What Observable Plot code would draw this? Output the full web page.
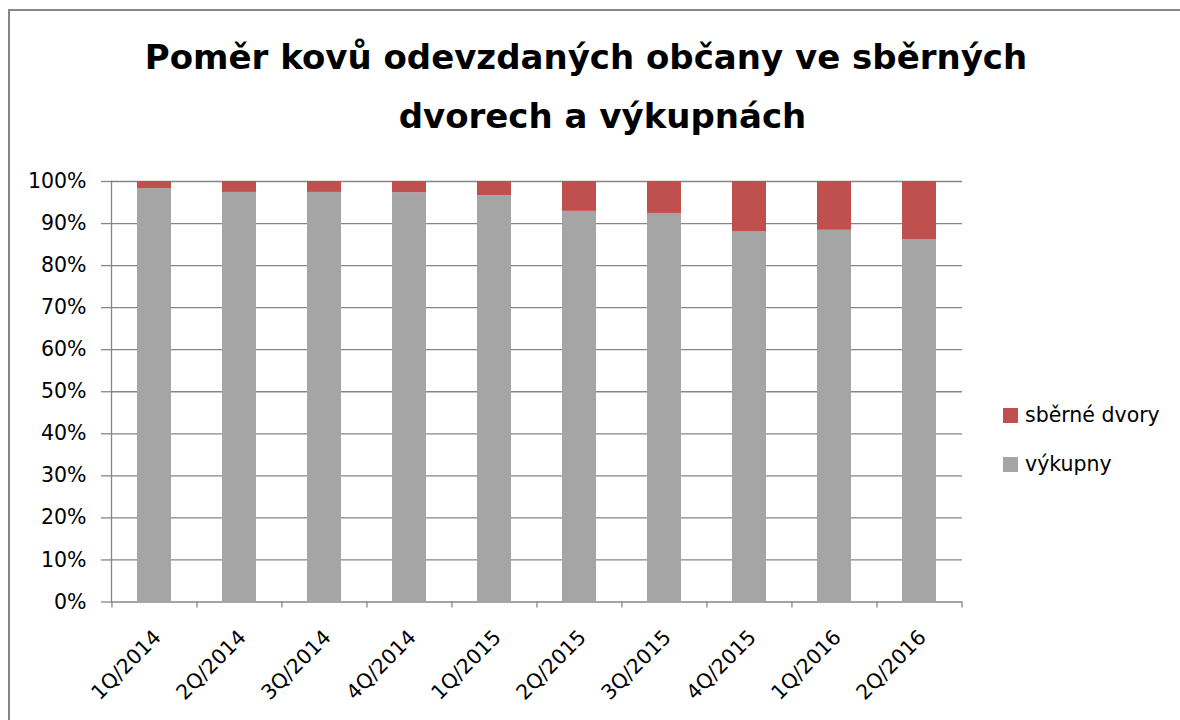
<!DOCTYPE html>
<html><head><meta charset="utf-8">
<script src="https://cdn.jsdelivr.net/npm/d3@7"></script>
<script src="https://cdn.jsdelivr.net/npm/@observablehq/plot@0.6"></script>
<style>
body{margin:0;background:#fff;}
#wrap{position:relative;width:1180px;height:720px;overflow:hidden;background:#fff;font-family:"DejaVu Sans",sans-serif;color:#000;}
#border{position:absolute;left:8px;top:9px;width:1300px;height:900px;border:2px solid #868686;box-sizing:border-box;}
.t{position:absolute;font-weight:bold;font-size:34px;line-height:34px;text-align:center;white-space:nowrap;}
.lg{position:absolute;font-size:20.5px;line-height:20.5px;white-space:nowrap;}
.sw{position:absolute;width:15px;height:15px;}
#chart{position:absolute;left:0;top:0;}
</style></head>
<body>
<div id="wrap">
  <div id="border"></div>
  <div id="chart"></div>
  <div class="t" id="t1" style="left:0;width:1172px;top:40px;"></div>
  <div class="t" id="t2" style="left:0;width:1205px;top:99px;"></div>
  <div id="legend"></div>
</div>
<script>
const titleLines = ["Poměr kovů odevzdaných občany ve sběrných", "dvorech a výkupnách"];
const categories = ["1Q/2014","2Q/2014","3Q/2014","4Q/2014","1Q/2015","2Q/2015","3Q/2015","4Q/2015","1Q/2016","2Q/2016"];
const seriesNames = ["výkupny", "sběrné dvory"];
const seriesColors = ["#A5A5A5", "#C0504D"];
const vykupny = [98.3, 97.4, 97.4, 97.3, 96.6, 92.9, 92.4, 88.0, 88.4, 86.2];
const sberneDvory = [1.7, 2.6, 2.6, 2.7, 3.4, 7.1, 7.6, 12.0, 11.6, 13.8];
const yTicks = [0,10,20,30,40,50,60,70,80,90,100];

document.getElementById("t1").textContent = titleLines[0];
document.getElementById("t2").textContent = titleLines[1];

const rows = [];
categories.forEach((c, i) => {
  rows.push({q: c, series: seriesNames[0], v: vykupny[i]});
  rows.push({q: c, series: seriesNames[1], v: sberneDvory[i]});
});

const W = 1180, H = 720, mL = 111, mR = 218, mT = 181, mB = 118.5;
const step = (W - mL - mR) / categories.length;
const grey = "#868686";

const chart = Plot.plot({
  width: W, height: H,
  marginLeft: mL, marginRight: mR, marginTop: mT, marginBottom: mB,
  style: {fontFamily: "DejaVu Sans, sans-serif", fontSize: "20.5px", color: "#000", background: "transparent"},
  x: {domain: categories, paddingInner: 0.6, paddingOuter: 0.3, label: null},
  y: {domain: [0, 100], label: null},
  color: {domain: seriesNames, range: seriesColors},
  marks: [
    Plot.gridY(yTicks, {stroke: grey, strokeOpacity: 1, strokeWidth: 1.3}),
    Plot.barY(rows, {x: "q", y: "v", fill: "series"}),
    Plot.frame({anchor: "left", stroke: grey, strokeWidth: 1.3}),
    Plot.ruleX(categories, {x: d => d, dx: -step / 2, y1: 0, y2: 0, insetBottom: -6, stroke: grey, strokeWidth: 1.3}),
    Plot.ruleX([categories[categories.length - 1]], {x: d => d, dx: step / 2, y1: 0, y2: 0, insetBottom: -6, stroke: grey, strokeWidth: 1.3}),
    Plot.axisY(yTicks, {tickSize: 10, tickPadding: 15, tickFormat: d => d + "%", stroke: grey, strokeWidth: 1.3, fill: "#000"}),
    Plot.axisX({tickRotate: -45, tickSize: 0, tickPadding: 32, dx: 3, fill: "#000"})
  ]
});
document.getElementById("chart").appendChild(chart);

const legend = document.getElementById("legend");
const legItems = [{name: seriesNames[1], color: seriesColors[1], top: 408}, {name: seriesNames[0], color: seriesColors[0], top: 457}];
legItems.forEach(it => {
  const sw = document.createElement("div");
  sw.className = "sw"; sw.style.left = "1003px"; sw.style.top = it.top + "px"; sw.style.background = it.color;
  legend.appendChild(sw);
  const tx = document.createElement("div");
  tx.className = "lg"; tx.style.left = "1025px"; tx.style.top = (it.top - 3) + "px"; tx.textContent = it.name;
  legend.appendChild(tx);
});
</script>
</body></html>
